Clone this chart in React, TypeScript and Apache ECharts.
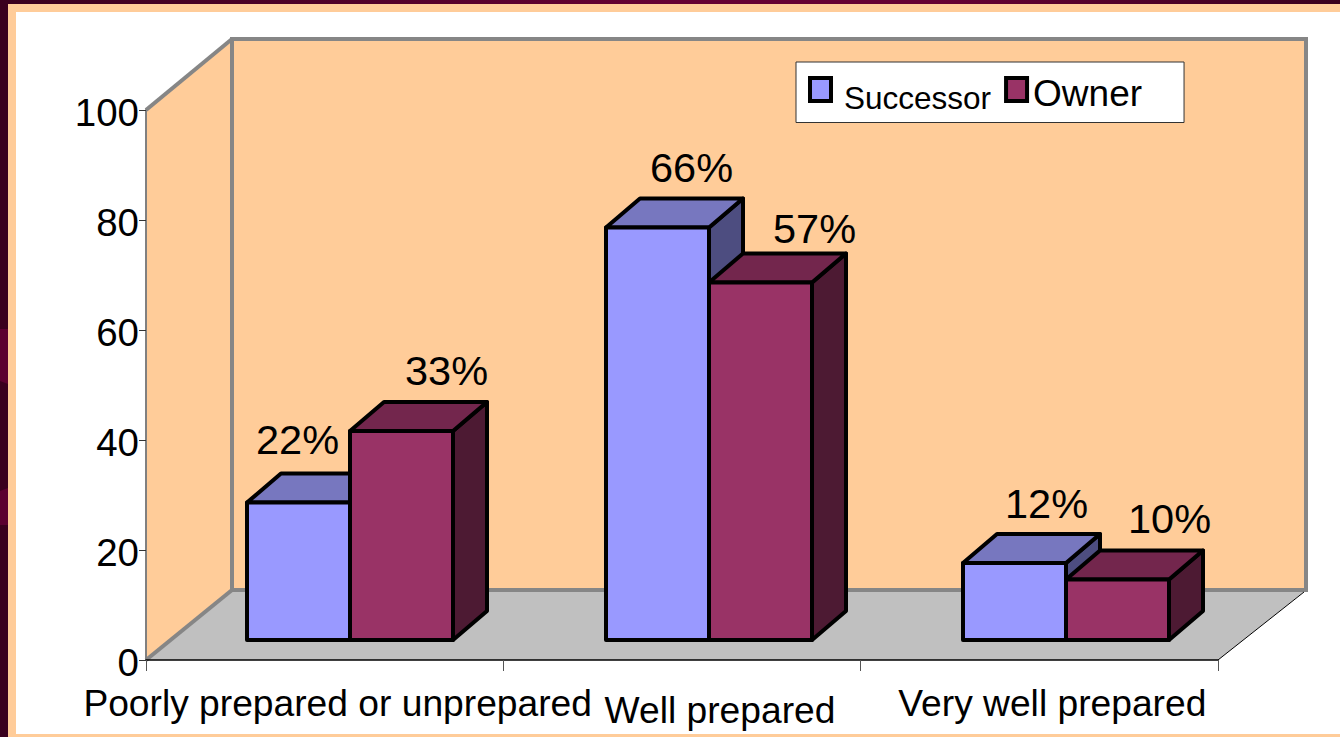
import React, { useEffect, useRef } from "react";
import * as echarts from "echarts";

const categories = ["Poorly prepared or unprepared", "Well prepared", "Very well prepared"];
const successorValues = [25, 75, 14];
const ownerValues = [38, 65, 11];
const successorLabels = ["22%", "66%", "12%"];
const ownerLabels = ["33%", "57%", "10%"];
const yTicks = { min: 0, max: 100, interval: 20 };

// layout only
const FONT = '"Liberation Sans", Arial, sans-serif';
const GRID = { left: 146, top: 110, width: 1072, height: 550 };
const DEPTH = { wallX: 86, wallY: 70, frontX: 25, frontY: 20, barX: 34, barY: 29 };
const BAR_SHARE = 0.288;
const groupNudge = [0, 1.8, 1.55];
const successorLabelShift = [{ x: -1, y: -63 }, { x: 34, y: -60 }, { x: 32, y: -60 }];
const ownerLabelShift = [{ x: 45, y: -61 }, { x: 54, y: -54 }, { x: 52, y: -61 }];

const makeBar = (
  colors: { front: string; top: string; side: string },
  slot: number,
  labels: string[],
  shifts: { x: number; y: number }[],
) => (params: any, api: any) => {
  const i = api.value(0);
  const top = api.coord([i, api.value(1)]);
  const base = api.coord([i, 0]);
  const band = api.size([1, 0])[0];
  const w = band * BAR_SHARE;
  const x0 = Math.round(base[0] + DEPTH.frontX + groupNudge[i] + (slot - 1) * w);
  const x1 = Math.round(base[0] + DEPTH.frontX + groupNudge[i] + slot * w);
  const yT = top[1] - DEPTH.frontY;
  const yB = base[1] - DEPTH.frontY;
  const dx = DEPTH.barX;
  const dy = DEPTH.barY;
  const line = { stroke: "#000000", lineWidth: 4, lineJoin: "round" };
  const shift = shifts[i];
  return {
    type: "group",
    children: [
      {
        type: "polygon",
        shape: { points: [[x1, yT], [x1 + dx, yT - dy], [x1 + dx, yB - dy], [x1, yB]] },
        style: { fill: colors.side, ...line },
      },
      {
        type: "polygon",
        shape: { points: [[x0, yT], [x0 + dx, yT - dy], [x1 + dx, yT - dy], [x1, yT]] },
        style: { fill: colors.top, ...line },
      },
      {
        type: "rect",
        shape: { x: x0, y: yT, width: x1 - x0, height: yB - yT },
        style: { fill: colors.front, ...line },
      },
      {
        type: "text",
        x: (x0 + x1) / 2 + shift.x,
        y: yT + shift.y,
        style: {
          text: labels[i],
          font: `41.5px ${FONT}`,
          fill: "#000000",
          align: "center",
          verticalAlign: "middle",
        },
      },
    ],
  };
};

const back = (el: any) => ({ ...el, z: -10 });

export default function App() {
  const ref = useRef<HTMLDivElement>(null);
  useEffect(() => {
    const chart = echarts.init(ref.current!, null, { renderer: "svg" });
    const L = GRID.left;
    const T = GRID.top;
    const R = GRID.left + GRID.width;
    const B = GRID.top + GRID.height;
    const bw = 4;
    const wx0 = L + DEPTH.wallX;
    const wx1 = R + DEPTH.wallX + 2;
    const wyT = T - DEPTH.wallY - 1;
    const wyB = B - DEPTH.wallY;
    chart.setOption({
      animation: false,
      backgroundColor: "#3A001E",
      graphic: {
        elements: [
          back({ type: "rect", shape: { x: 0, y: 0, width: 1340, height: 4 },
            style: { fill: { type: "linear", x: 0, y: 0, x2: 1, y2: 0, colorStops: [
              { offset: 0, color: "#3A001E" }, { offset: 0.5, color: "#660033" },
              { offset: 0.7, color: "#660033" }, { offset: 1, color: "#3A001E" } ] } } }),
          back({ type: "polygon", shape: { points: [[0, 329], [8, 329], [8, 384], [0, 381]] }, style: { fill: "#5C0030" } }),
          back({ type: "polygon", shape: { points: [[0, 491], [8, 488], [8, 525], [0, 525]] }, style: { fill: "#5C0030" } }),
          back({ type: "rect", shape: { x: 8, y: 4, width: 1332, height: 733 }, style: { fill: "#FFCC99" } }),
          back({ type: "rect", shape: { x: 16, y: 12, width: 1324, height: 722 }, style: { fill: "#FFFFFF" } }),
          back({ type: "polygon", shape: { points: [[L, T], [wx0, wyT], [wx0, wyB], [L, B]] }, style: { fill: "#FFCC99" } }),
          back({ type: "rect", shape: { x: wx0, y: wyT, width: wx1 - wx0, height: wyB - wyT }, style: { fill: "#FFCC99" } }),
          back({ type: "polygon", shape: { points: [[L, B], [wx0, wyB], [wx1, wyB], [R, B]] }, style: { fill: "#C0C0C0" } }),
          back({ type: "rect", shape: { x: wx0, y: wyT, width: wx1 - wx0, height: wyB - wyT }, style: { fill: "none", stroke: "#868686", lineWidth: bw } }),
          back({ type: "line", shape: { x1: L, y1: T, x2: wx0, y2: wyT }, style: { stroke: "#868686", lineWidth: bw } }),
          back({ type: "line", shape: { x1: L, y1: B, x2: wx0, y2: wyB }, style: { stroke: "#868686", lineWidth: bw } }),
          back({ type: "line", shape: { x1: R, y1: B, x2: wx1 - 2, y2: wyB + 2 }, style: { stroke: "#000000", lineWidth: 1 } }),
        ],
      },
      grid: { ...GRID, containLabel: false },
      legend: {
        left: 796,
        top: 62,
        orient: "horizontal",
        backgroundColor: "#FFFFFF",
        borderColor: "#333333",
        borderWidth: 1,
        padding: [13, 42, 9, 12],
        itemWidth: 21,
        itemHeight: 23,
        itemGap: 13,
        selectedMode: false,
        formatter: (name: string) => (name === "Successor" ? `{s|${name}}` : `{o|${name}}`),
        textStyle: {
          fontFamily: FONT,
          color: "#000",
          rich: {
            s: { fontSize: 31.5, fontFamily: FONT, color: "#000", padding: [16, 0, 0, 8] },
            o: { fontSize: 37, fontFamily: FONT, color: "#000", padding: [8, 0, 0, 1] },
          },
        },
        data: [
          { name: "Successor", icon: "rect", itemStyle: { borderColor: "#000", borderWidth: 4 } },
          { name: "Owner", icon: "rect", itemStyle: { borderColor: "#000", borderWidth: 4 } },
        ],
      },
      xAxis: {
        type: "category",
        data: categories,
        boundaryGap: true,
        axisLine: { lineStyle: { color: "#000000", width: 1.5 } },
        axisTick: { show: true, alignWithLabel: false, length: 11, lineStyle: { color: "#555555", width: 1 } },
        axisLabel: {
          interval: 0,
          hideOverlap: false,
          margin: 24,
          color: "#000000",
          fontFamily: FONT,
          fontSize: 37.2,
          formatter: (v: string) => {
            const k = categories.indexOf(v) === 1 ? "b" : "a";
            return `{${k}|${v}}`;
          },
          rich: {
            a: { fontSize: 37.2, fontFamily: FONT, color: "#000", padding: [0, 0, 0, 26] },
            b: { fontSize: 37.2, fontFamily: FONT, color: "#000", padding: [7, 0, 0, 76] },
          },
        },
      },
      yAxis: {
        type: "value",
        min: yTicks.min,
        max: yTicks.max,
        interval: yTicks.interval,
        splitLine: { show: false },
        axisLine: { show: true, lineStyle: { color: "#808080", width: 2 } },
        axisTick: { show: true, length: 7, lineStyle: { color: "#333333", width: 1 } },
        axisLabel: {
          margin: 7,
          color: "#000000",
          fontFamily: FONT,
          fontSize: 38.5,
          formatter: "{v|{value}}",
          rich: { v: { fontSize: 38.5, fontFamily: FONT, color: "#000", padding: [4, 0, 0, 0] } },
        },
      },
      series: [
        {
          type: "custom",
          name: "Successor",
          itemStyle: { color: "#9999FF", borderColor: "#000000", borderWidth: 4 },
          renderItem: makeBar({ front: "#9999FF", top: "#7777BF", side: "#4D4D80" }, 0, successorLabels, successorLabelShift),
          encode: { x: 0, y: 1 },
          data: successorValues.map((v, i) => [i, v]),
          clip: false,
        },
        {
          type: "custom",
          name: "Owner",
          itemStyle: { color: "#993366", borderColor: "#000000", borderWidth: 4 },
          renderItem: makeBar({ front: "#993366", top: "#73264D", side: "#4D1A33" }, 1, ownerLabels, ownerLabelShift),
          encode: { x: 0, y: 1 },
          data: ownerValues.map((v, i) => [i, v]),
          clip: false,
        },
      ],
    });
    return () => chart.dispose();
  }, []);
  return <div ref={ref} style={{ position: "fixed", left: 0, top: 0, width: 1340, height: 737 }} />;
}
